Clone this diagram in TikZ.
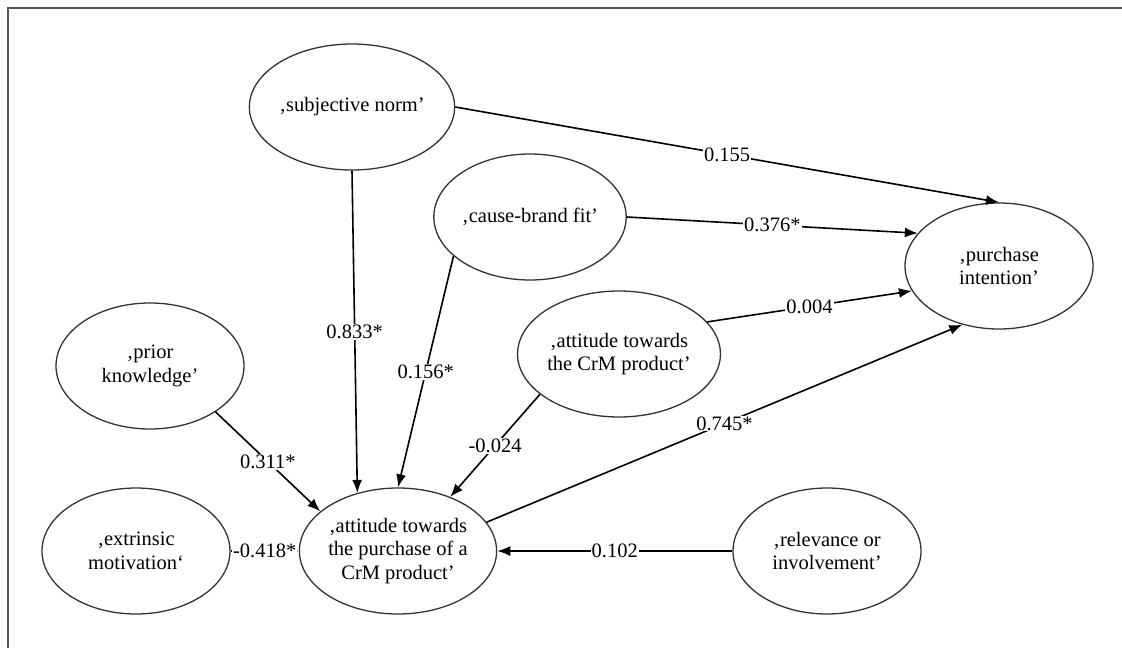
\documentclass[tikz,border=0pt]{standalone}
\usepackage{fontspec}
\setmainfont{Liberation Serif}
\usetikzlibrary{arrows.meta,shapes.geometric}
\definecolor{framegray}{HTML}{555555}
\definecolor{ellgray}{HTML}{333333}
\tikzset{
  construct/.style={ellipse, draw=ellgray, line width=1.3pt, minimum width=188pt, minimum height=126pt, inner sep=0pt, align=center, font=\fontsize{20.5}{23.5}\selectfont},
  path/.style={draw=black, line width=1.6pt, -{Latex[length=13pt,width=10pt]}},
  coef/.style={fill=white, inner sep=1pt, font=\fontsize{20.5}{23.5}\selectfont, pos=0.5}
}
\begin{document}
\begin{tikzpicture}[x=1pt,y=-1pt]
\useasboundingbox (0,0) rectangle (1122,648);
\draw[framegray, line width=2pt] (8,648) -- (8,8) -- (1122,8);

\node[construct] (sn)   at (352,107) {‚subjective norm’};
\node[construct] (cbf)  at (530,217) {‚cause-brand fit’};
\node[construct] (pi)   at (999,266) {‚purchase\\intention’};
\node[construct] (acrm) at (619,354) {‚attitude towards\\the CrM product’};
\node[construct] (pk)   at (150,366) {‚prior\\knowledge’};
\node[construct] (em)   at (136,551) {‚extrinsic\\motivation‘};
\node[construct] (ap)   at (398,551) {‚attitude towards\\the purchase of a\\CrM product’};
\node[construct] (ri)   at (827,551) {‚relevance or\\involvement’};

\draw[path] (sn.east) -- node[coef] {0.155} (pi.north);
\draw[path] (cbf.east) -- node[coef] {0.376*} (pi.158);
\draw[path] (acrm.20) -- node[coef] {0.004} (pi.196);
\draw[path] (ap.18) -- node[coef] {0.745*} (pi.238);
\draw[path] (sn.south) -- node[coef] {0.833*} (ap.125);
\draw[path] (cbf.207) -- node[coef] {0.156*} (ap.north);
\draw[path] (acrm.207) -- node[coef] {-0.024} (ap.46);
\draw[path] (pk.-35) -- node[coef] {0.311*} (ap.153);
\draw[path] (em.east) -- node[coef] {-0.418*} (ap.west);
\draw[path] (ri.west) -- node[coef] {0.102} (ap.east);
\end{tikzpicture}
\end{document}
